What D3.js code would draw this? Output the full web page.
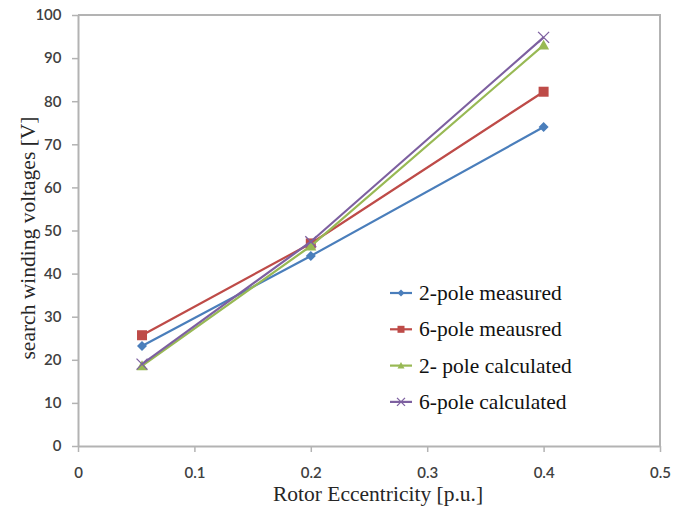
<!DOCTYPE html>
<html>
<head>
<meta charset="utf-8">
<script src="https://cdn.jsdelivr.net/npm/d3@7"></script>
<style>
  body { margin: 0; background: #fff; }
</style>
</head>
<body>
<div id="chart-area"></div>
<script>
// eccentricity values (x)
var ecc = [0.055, 0.2, 0.4];
var seriesNames = ["2-pole measured", "6-pole meausred", "2- pole calculated", "6-pole calculated"];
var pole2Measured = [23.2, 44.1, 74.0];
var pole6Measured = [25.7, 47.0, 82.2];
var pole2Calc = [18.6, 46.4, 93.0];
var pole6Calc = [19.0, 47.4, 94.8];
var xTicks = [0, 0.1, 0.2, 0.3, 0.4, 0.5];
var yTicks = [0, 10, 20, 30, 40, 50, 60, 70, 80, 90, 100];

var colors = ["#4a7ebb", "#be4b48", "#98b954", "#7d60a0"];
var markers = ["diamond", "square", "triangle", "x"];
var allSeries = [pole2Measured, pole6Measured, pole2Calc, pole6Calc];

var serif = "'Liberation Serif', 'Times New Roman', serif";
var sans = "Lato, 'Open Sans', sans-serif";

var width = 684, height = 508;
var margin = {top: 15, right: 24, bottom: 62, left: 78};
var w = width - margin.left - margin.right;
var h = height - margin.top - margin.bottom;

var svg = d3.select("#chart-area").append("svg")
  .attr("width", width)
  .attr("height", height);

var g = svg.append("g")
  .attr("transform", "translate(" + margin.left + "," + margin.top + ")");

var x = d3.scaleLinear().domain([0, 0.5]).range([0, w]);
var y = d3.scaleLinear().domain([0, 100]).range([h, 0]);

// plot border (top & right)
g.append("path")
  .attr("d", "M0,0H" + w + "V" + h)
  .attr("fill", "none")
  .attr("stroke", "#b3b3b3")
  .attr("stroke-width", 2);

var xAxis = d3.axisBottom(x).tickValues(xTicks).tickSize(6).tickSizeOuter(0)
  .tickFormat(function(d) { return d === 0 ? "0" : d3.format(".1f")(d); });
var yAxis = d3.axisLeft(y).tickValues(yTicks).tickSize(6).tickSizeOuter(0);

var gx = g.append("g").attr("transform", "translate(0," + h + ")").call(xAxis);
var gy = g.append("g").call(yAxis);

[gx, gy].forEach(function(ax) {
  ax.select(".domain").attr("stroke", "#b3b3b3").attr("stroke-width", 2);
  ax.selectAll(".tick line").attr("stroke", "#b3b3b3").attr("stroke-width", 1.5);
  ax.selectAll(".tick text")
    .style("font-family", sans)
    .style("font-size", "15px")
    .style("font-weight", "600")
    .style("fill", "#404040");
});
gx.selectAll(".tick text").attr("dy", "1.55em");
gy.selectAll(".tick text").attr("dx", "-0.5em");

// axis titles
g.append("text")
  .attr("x", 300)
  .attr("y", h + 55)
  .attr("text-anchor", "middle")
  .style("font-family", serif)
  .style("font-size", "21.5px")
  .style("fill", "#262626")
  .text("Rotor Eccentricity [p.u.]");

g.append("text")
  .attr("transform", "rotate(-90)")
  .attr("x", -223)
  .attr("y", -43)
  .attr("text-anchor", "middle")
  .style("font-family", serif)
  .style("font-size", "21.5px")
  .style("fill", "#262626")
  .text("search winding voltages [V]");

var line = d3.line()
  .x(function(d, i) { return x(ecc[i]); })
  .y(function(d) { return y(d); });

function drawMarker(sel, type, color, px, py, s) {
  if (type === "diamond") {
    sel.append("path")
      .attr("d", "M" + px + "," + (py - s) + "L" + (px + s) + "," + py + "L" + px + "," + (py + s) + "L" + (px - s) + "," + py + "Z")
      .attr("fill", color);
  } else if (type === "square") {
    sel.append("rect")
      .attr("x", px - s).attr("y", py - s)
      .attr("width", 2 * s).attr("height", 2 * s)
      .attr("fill", color);
  } else if (type === "triangle") {
    sel.append("path")
      .attr("d", "M" + px + "," + (py - s) + "L" + (px + s) + "," + (py + s * 0.8) + "L" + (px - s) + "," + (py + s * 0.8) + "Z")
      .attr("fill", color);
  } else {
    sel.append("path")
      .attr("d", "M" + (px - s) + "," + (py - s) + "L" + (px + s) + "," + (py + s) + "M" + (px + s) + "," + (py - s) + "L" + (px - s) + "," + (py + s))
      .attr("stroke", color).attr("stroke-width", 1.3).attr("fill", "none");
  }
}

allSeries.forEach(function(vals, k) {
  g.append("path")
    .datum(vals)
    .attr("d", line)
    .attr("fill", "none")
    .attr("stroke", colors[k])
    .attr("stroke-width", 2.2);
  var mg = g.append("g");
  vals.forEach(function(v, i) {
    var s = markers[k] === "diamond" ? 5 : (markers[k] === "square" ? 5 : 5.5);
    drawMarker(mg, markers[k], colors[k], x(ecc[i]), y(v), s);
  });
});

// legend
var legend = svg.append("g").attr("transform", "translate(390,293)");
seriesNames.forEach(function(name, k) {
  var row = legend.append("g").attr("transform", "translate(0," + (k * 36.3) + ")");
  row.append("line")
    .attr("x1", 0).attr("x2", 22).attr("y1", 0).attr("y2", 0)
    .attr("stroke", colors[k]).attr("stroke-width", 2.2);
  drawMarker(row, markers[k], colors[k], 11, 0, markers[k] === "x" ? 4 : 3.5);
  row.append("text")
    .attr("x", 29)
    .attr("y", 0)
    .attr("dy", "0.33em")
    .style("font-family", serif)
    .style("font-size", "21.5px")
    .style("fill", "#111")
    .text(name);
});
</script>
</body>
</html>
